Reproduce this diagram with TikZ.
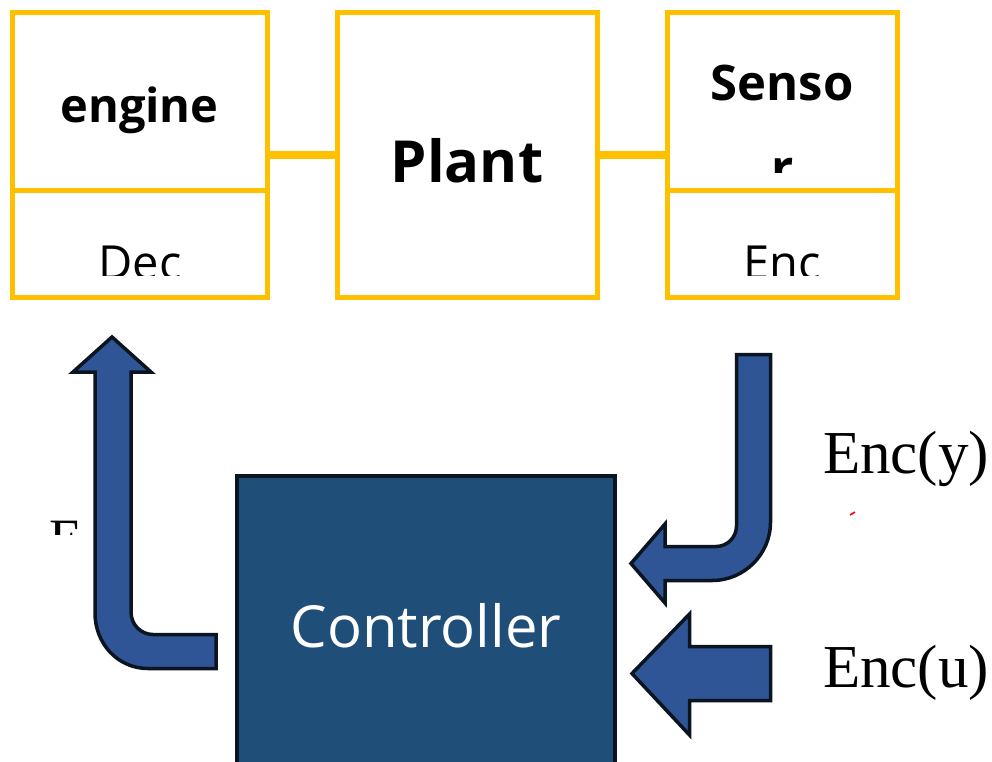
\documentclass[tikz,border=0pt]{standalone}
\usepackage{fontspec}
\newfontfamily\osans{Open Sans}
\newfontfamily\oserif{Liberation Serif}
\definecolor{ybord}{HTML}{FFC000}
\definecolor{ctrlfill}{HTML}{1F4E79}
\definecolor{arrfill}{HTML}{2F5597}
\definecolor{darkedge}{HTML}{0A1520}
\tikzset{
  ybox/.style={draw=ybord, line width=5pt, fill=white, rectangle, inner sep=0pt, outer sep=0pt},
  ylink/.style={draw=ybord, line width=8pt},
  blockarrow/.style={fill=arrfill, draw=darkedge, line width=3.5pt, line join=miter},
  lbl/.style={inner sep=0pt, outer sep=0pt, anchor=base},
}
\begin{document}
\begin{tikzpicture}[x=1pt, y=-1pt]
\useasboundingbox (0,0) rectangle (992,761);
\fill[white] (0,0) rectangle (992,761);

% top boxes
\node[ybox, minimum width=260pt, minimum height=285pt] (plant) at (467,154.5) {};
\node[ybox, minimum width=255pt, minimum height=178pt] (engt) at (139.5,101) {};
\node[ybox, minimum width=255pt, minimum height=107pt] (engb) at (139.5,243.5) {};
\node[ybox, minimum width=230pt, minimum height=178pt] (sent) at (782,101) {};
\node[ybox, minimum width=230pt, minimum height=107pt] (senb) at (782,243.5) {};
\draw[ylink] (plant.west) -- (plant.west -| engt.east);
\draw[ylink] (plant.east) -- (plant.east -| sent.west);

% texts of top boxes
\node[lbl] (tengine) at (139.5,122) {\osans\bfseries\fontsize{47}{56}\selectfont engine};
\node[lbl] (tplant) at (467,182) {\osans\bfseries\fontsize{58}{69}\selectfont Plant};
\begin{scope}
  \clip (670,15) rectangle (895,172);
  \node[lbl] (tsenso) at (782,100) {\osans\bfseries\fontsize{49}{59}\selectfont Senso};
  \node[lbl] (tsensr) at (783,185) {\osans\bfseries\fontsize{49}{59}\selectfont r};
\end{scope}
\begin{scope}
  \clip (15,193) rectangle (264,275);
  \node[lbl] (tdec) at (140,279) {\osans\fontsize{47}{56}\selectfont Dec};
\end{scope}
\begin{scope}
  \clip (670,193) rectangle (895,275);
  \node[lbl] (tenc) at (782,279) {\osans\fontsize{47}{56}\selectfont Enc};
\end{scope}

% partial E at left
\begin{scope}
  \clip (40,515) rectangle (90,534);
  \node[lbl] (tfrag) at (66,556) {\oserif\fontsize{54}{64}\selectfont E};
\end{scope}

% controller
\node[rectangle, fill=ctrlfill, draw=darkedge, line width=4pt, minimum width=378pt, minimum height=300pt, inner sep=0pt] (ctrl) at (426,626) {};
\node[lbl, text=white] (tctrl) at (426,647) {\osans\fontsize{58}{70}\selectfont Controller};

% up arrow (to Dec)
\draw[blockarrow] (216,634.5) -- (153,634.5) .. controls (140.9,634.5) and (131,624.6) .. (131,612)
  -- (131,372) -- (151,372) -- (112,337) -- (73,372) -- (95,372)
  -- (95,613) .. controls (95,643.4) and (117.6,668.5) .. (148,668.5) -- (216,668.5) -- cycle;

% J arrow (Enc(y))
\draw[blockarrow] (736.5,354.5) -- (770.5,354.5) -- (770.5,522)
  .. controls (770.5,554.3) and (744.3,580.5) .. (712,580.5) -- (665,580.5) -- (665,603)
  -- (631,563.5) -- (665,524) -- (665,546.5) -- (716,546.5)
  .. controls (727.3,546.5) and (736.5,537.3) .. (736.5,526) -- cycle;

% straight arrow (Enc(u))
\draw[blockarrow] (770.5,646.5) -- (689.5,646.5) -- (689.5,614) -- (632,673.5)
  -- (689.5,735) -- (689.5,700.5) -- (770.5,700.5) -- cycle;

% labels
\node[lbl] (tency) at (906,473) {\oserif\fontsize{61}{73}\selectfont Enc(y)};
\node[lbl] (tencu) at (906,687) {\oserif\fontsize{61}{73}\selectfont Enc(u)};
\draw[red, line width=1.6pt] (850,515) -- (855,512);
\end{tikzpicture}
\end{document}
